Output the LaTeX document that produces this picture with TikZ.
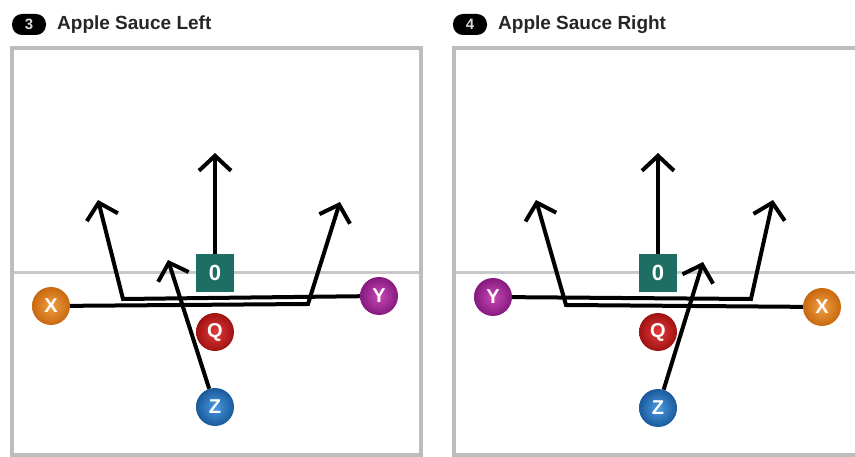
\documentclass[tikz,border=0pt]{standalone}
\usepackage{fontspec}
\setmainfont{Liberation Sans}
\usetikzlibrary{arrows.meta}
\definecolor{frameg}{HTML}{BDBDBD}
\definecolor{losg}{HTML}{C8C8C8}
\definecolor{teal0}{HTML}{1E6E64}
\definecolor{xin}{HTML}{F2A040}\definecolor{xout}{HTML}{C86810}
\definecolor{yin}{HTML}{C648B6}\definecolor{yout}{HTML}{861A7E}
\definecolor{qin}{HTML}{E43A3A}\definecolor{qout}{HTML}{A01212}
\definecolor{zin}{HTML}{4A9AE0}\definecolor{zout}{HTML}{1A5A9C}
\definecolor{titleg}{HTML}{262626}
\tikzset{
  player/.style={circle, minimum size=38pt, inner sep=0pt, text=white,
    font=\fontsize{20}{20}\selectfont\bfseries},
  px/.style={player, inner color=xin, outer color=xout},
  py/.style={player, inner color=yin, outer color=yout},
  pq/.style={player, inner color=qin, outer color=qout},
  pz/.style={player, inner color=zin, outer color=zout},
  center0/.style={rectangle, fill=teal0, minimum size=38pt, inner sep=0pt, text=white,
    font=\fontsize{22}{22}\selectfont\bfseries},
  route/.style={line width=4pt, black, -{Straight Barb[length=15pt,width=32pt,line width=4pt]}},
  fieldframe/.style={draw=frameg, line width=4pt},
  los/.style={draw=losg, line width=3pt},
  pill/.style={fill=black, rounded corners=10pt, minimum width=34pt, minimum height=21pt,
    inner sep=0pt, text=white!85!black, font=\fontsize{15}{15}\selectfont\bfseries},
  title/.style={anchor=west, inner sep=0pt, text=titleg, font=\fontsize{19}{19}\selectfont\bfseries}
}
\begin{document}
\begin{tikzpicture}[x=1pt, y=-1pt]
\useasboundingbox (0,0) rectangle (855,457);
\clip (0,0) rectangle (855,457);
\fill[white] (0,0) rectangle (855,457);

% ---------- Left panel ----------
\node[pill] (p3) at (29,24.5) {3};
\node[title] (t3) at (57,25) {Apple Sauce Left};
\draw[los] (12,273) -- (421,273);
\draw[fieldframe] (12,48) rectangle (421,455);

\node[center0] (lO) at (215,273) {0};
\node[px] (lX) at (51,306) {X};
\node[py] (lY) at (379,296) {Y};
\node[pq] (lQ) at (215,332) {Q};
\node[pz] (lZ) at (215,407) {Z};

\coordinate (lOt) at (215,153);
\coordinate (lXc) at (308,304);
\coordinate (lXt) at (340,202);
\coordinate (lYc) at (123,299);
\coordinate (lYt) at (98,200);
\coordinate (lZt) at (168,260);

\draw[route] (lO.north) -- (lOt);
\draw[route] (lX) -- (lXc) -- (lXt);
\draw[route] (lY) -- (lYc) -- (lYt);
\draw[route] (lZ) -- (lZt);

% ---------- Right panel ----------
\node[pill] (p4) at (470,24.5) {4};
\node[title] (t4) at (498,25) {Apple Sauce Right};
\draw[los] (454,273) -- (860,273);
\draw[fieldframe] (454,48) rectangle (862,455);

\node[center0] (rO) at (658,273) {0};
\node[py] (rY) at (493,297) {Y};
\node[px] (rX) at (822,307) {X};
\node[pq] (rQ) at (658,332) {Q};
\node[pz] (rZ) at (658,408) {Z};

\coordinate (rOt) at (658,153);
\coordinate (rYc) at (751,299);
\coordinate (rYt) at (773,200);
\coordinate (rXc) at (566,305);
\coordinate (rXt) at (536,200);
\coordinate (rZt) at (703,262);

\draw[route] (rO.north) -- (rOt);
\draw[route] (rY) -- (rYc) -- (rYt);
\draw[route] (rX) -- (rXc) -- (rXt);
\draw[route] (rZ) -- (rZt);
\end{tikzpicture}
\end{document}
